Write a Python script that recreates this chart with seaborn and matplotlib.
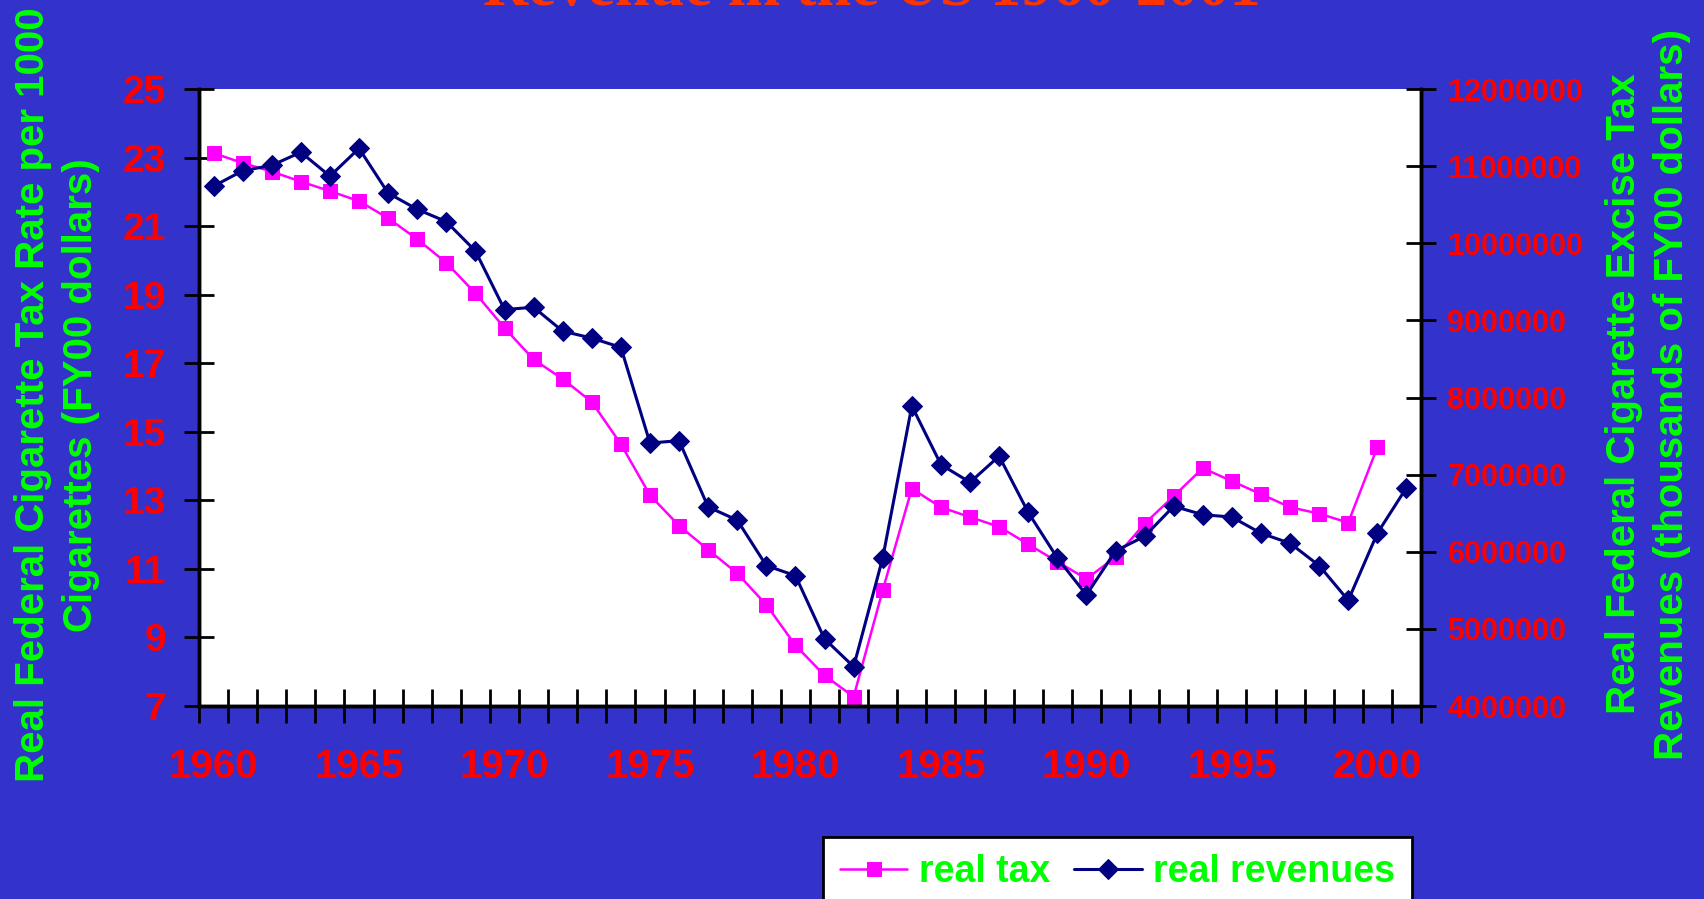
import numpy as np
import seaborn as sns
import matplotlib.pyplot as plt
from matplotlib.ticker import FuncFormatter

# jaren en reeksen
years_tax = list(range(1960, 2001))
real_tax = [23.13, 22.84, 22.59, 22.30, 22.02, 21.73, 21.23, 20.62, 19.93, 19.04,
            18.03, 17.11, 16.54, 15.87, 14.64, 13.15, 12.26, 11.56, 10.87, 9.95,
            8.77, 7.89, 7.27, 10.38, 13.34, 12.80, 12.51, 12.23, 11.72, 11.21,
            10.71, 11.34, 12.32, 13.12, 13.94, 13.56, 13.18, 12.80, 12.61, 12.35,
            14.55]

years_rev = list(range(1960, 2002))
real_revenues = [10.74, 10.94, 11.01, 11.18, 10.87, 11.23, 10.65, 10.44, 10.28, 9.90,
                 9.14, 9.17, 8.86, 8.77, 8.65, 7.41, 7.44, 6.58, 6.41, 5.82,
                 5.69, 4.87, 4.51, 5.92, 7.89, 7.13, 6.90, 7.24, 6.51, 5.92,
                 5.44, 6.01, 6.20, 6.59, 6.48, 6.45, 6.24, 6.11, 5.82, 5.37,
                 6.24, 6.83]
real_revenues = [v * 1e6 for v in real_revenues]

left_ticks = list(range(7, 26, 2))
right_ticks = [4e6 + i * 1e6 for i in range(9)]
year_labels = list(range(1960, 2001, 5))

bg = '#3333CC'
green = '#00FF00'

sns.set_style("white")
plt.rcParams['font.family'] = ['Liberation Sans', 'DejaVu Sans']
plt.rcParams['font.weight'] = 'bold'

fig = plt.figure(figsize=(17.04, 8.99), dpi=100, facecolor=bg)
W, H = 1704, 899
ax = fig.add_axes([199 / W, 1 - 706 / H, (1421 - 199) / W, (706 - 89) / H])
ax.set_facecolor('white')
ax2 = ax.twinx()

sns.lineplot(x=years_tax, y=real_tax, ax=ax, color='#FF00FF', marker='s',
             markersize=10, markeredgecolor='#FF00FF', linewidth=1.8,
             label='real tax', legend=False)
sns.lineplot(x=years_rev, y=real_revenues, ax=ax2, color='#000080', marker='D',
             markersize=10, markeredgecolor='#000080', linewidth=2.2,
             label='real revenues', legend=False)

ax.set_xlim(1959.5, 2001.5)
ax.set_ylim(7, 25)
ax2.set_ylim(4e6, 12e6)
ax.set_yticks(left_ticks)
ax2.set_yticks(right_ticks)
ax2.yaxis.set_major_formatter(FuncFormatter(lambda v, p: f"{int(v)}"))

# x: streepjes tussen de jaren, labels op de jaren
ax.set_xticks(np.arange(1959.5, 2002, 1))
ax.set_xticks(year_labels, minor=True)
ax.set_xticklabels([str(y) for y in year_labels], minor=True)
ax.tick_params(axis='x', which='major', direction='inout', length=25, width=2,
               color='black', labelbottom=False, bottom=True, top=False)
ax.tick_params(axis='x', which='minor', length=0, pad=30.5, labelsize=29,
               labelcolor='#FF0000', bottom=True, top=False)
ax.tick_params(axis='y', direction='inout', length=21, width=2, color='black',
               pad=13, labelsize=28, labelcolor='#FF0000', left=True, right=False)
ax2.tick_params(axis='y', direction='inout', length=21, width=2, color='black',
                pad=8.5, labelsize=22, labelcolor='#FF0000', right=True)

for a in (ax, ax2):
    a.set_xlabel('')
    a.set_ylabel('')
    a.spines['top'].set_visible(False)
    for s in ('left', 'right', 'bottom'):
        a.spines[s].set_color('black')
        a.spines[s].set_linewidth(2.5)
    a.grid(False)

fig.text(57 / W, 1 - 395 / H,
         "Real Federal Cigarette Tax Rate per 1000\nCigarettes (FY00 dollars)",
         rotation=90, ha='center', va='center', multialignment='center',
         fontsize=29, color=green, fontweight='bold', linespacing=1.35)
fig.text(1648 / W, 1 - 394 / H,
         "Real Federal Cigarette Excise Tax\nRevenues (thousands of FY00 dollars)",
         rotation=90, ha='center', va='center', multialignment='center',
         fontsize=29, color=green, fontweight='bold', linespacing=1.35)

fig.text(872 / W, 1 - 5 / H, "Revenue in the US 1960-2001", ha='center',
         va='baseline', fontsize=45, color='#FF3300', fontweight='bold',
         family=['Liberation Serif', 'DejaVu Serif'])

h1, l1 = ax.get_legend_handles_labels()
h2, l2 = ax2.get_legend_handles_labels()
leg = fig.legend(h1 + h2, l1 + l2, loc='upper left',
                 bbox_to_anchor=(823 / W, 1 - 837 / H), ncol=2, fontsize=27,
                 frameon=True, fancybox=False, framealpha=1, edgecolor='black',
                 facecolor='white', borderpad=0.45, handlelength=1.8,
                 handletextpad=0.3, columnspacing=0.65, borderaxespad=0)
leg.get_frame().set_linewidth(2)
for t in leg.get_texts():
    t.set_color(green)
    t.set_fontweight('bold')

fig.savefig('out.png', dpi=100, facecolor=bg)
